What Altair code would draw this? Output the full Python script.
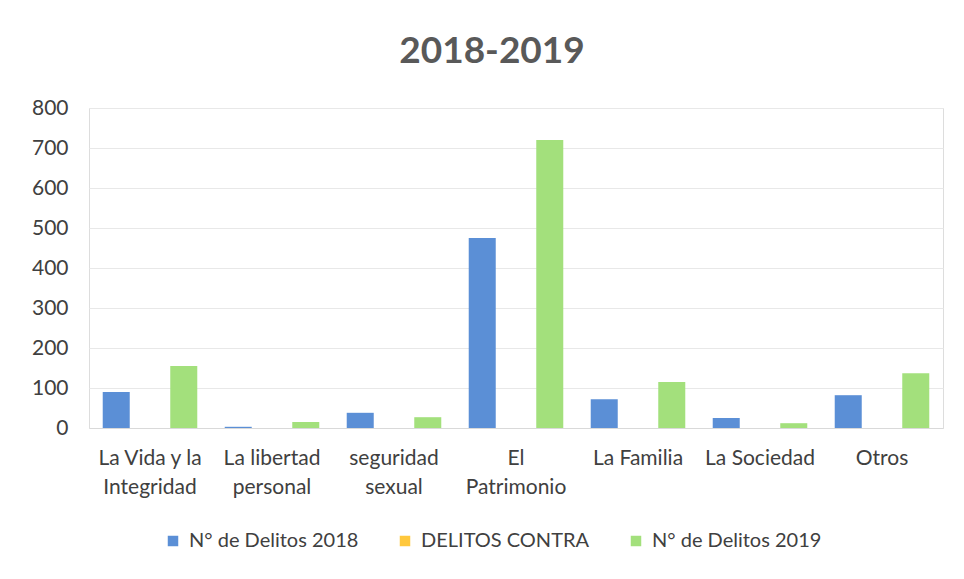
import altair as alt
import pandas as pd

categories = ["La Vida y la|Integridad", "La libertad|personal", "seguridad|sexual",
              "El|Patrimonio", "La Familia", "La Sociedad", "Otros"]
series = ["N° de Delitos 2018", "DELITOS CONTRA", "N° de Delitos 2019"]
delitos_2018 = [90, 3, 38, 475, 72, 25, 82]
delitos_contra = [0, 0, 0, 0, 0, 0, 0]
delitos_2019 = [155, 15, 27, 720, 115, 12, 137]
colors = ["#5b8fd6", "#ffc83d", "#a3e07c"]

rows = []
for i, c in enumerate(categories):
    for s, vals in zip(series, [delitos_2018, delitos_contra, delitos_2019]):
        rows.append({"categoria": c, "serie": s, "valor": vals[i]})
df = pd.DataFrame(rows)

FONT = "Lato"

chart = alt.Chart(df).mark_bar().encode(
    x=alt.X("categoria:N", sort=categories, title=None,
            scale=alt.Scale(paddingInner=0.225, paddingOuter=0.1125),
            axis=alt.Axis(labelAngle=0, labelExpr="split(datum.label, '|')",
                          labelFontSize=21, labelColor="#404040", labelFont=FONT,
                          labelPadding=19, labelLineHeight=29, labelBaseline="top",
                          ticks=False, domain=True, domainColor="#d9d9d9",
                          grid=False)),
    xOffset=alt.XOffset("serie:N", sort=series,
                        scale=alt.Scale(paddingInner=0.2, paddingOuter=0)),
    y=alt.Y("valor:Q", title=None,
            scale=alt.Scale(domain=[0, 800]),
            axis=alt.Axis(values=[0, 100, 200, 300, 400, 500, 600, 700, 800],
                          labelFontSize=21, labelColor="#404040", labelFont=FONT,
                          labelPadding=21, ticks=False, domain=False,
                          gridColor="#e8e8e8", gridWidth=1)),
    color=alt.Color("serie:N", sort=series, title=None,
                    scale=alt.Scale(domain=series, range=colors),
                    legend=alt.Legend(orient="none", legendX=74, legendY=423,
                                      direction="horizontal", symbolType="square",
                                      symbolSize=110, symbolStrokeWidth=0,
                                      labelFontSize=20, labelColor="#404040",
                                      labelFont=FONT, columnPadding=36,
                                      labelOffset=6, labelLimit=400)),
).properties(
    width=854, height=320,
    title=alt.TitleParams("2018-2019", fontSize=37, fontWeight="bold",
                          color="#595959", font=FONT, offset=26, anchor="middle",
                          dx=-24),
    autosize=alt.AutoSizeParams(type="none"),
    padding={"left": 81, "top": 100, "right": 13, "bottom": 130},
).configure_view(stroke=None).configure(background="white")

chart.save("out.html", embed_options={"renderer": "svg", "actions": False})
